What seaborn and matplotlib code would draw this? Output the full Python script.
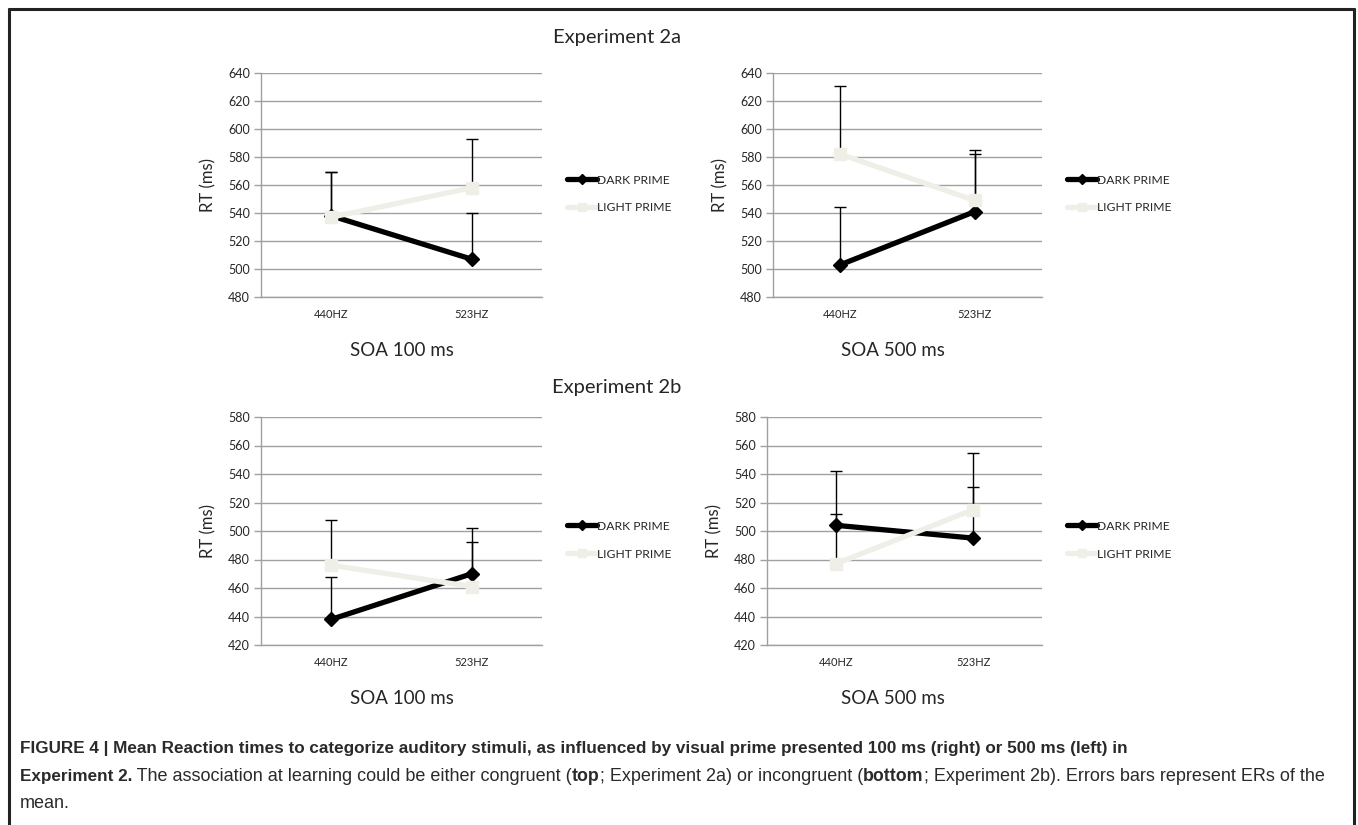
import numpy as np
import pandas as pd
import matplotlib
matplotlib.use("Agg")
import matplotlib.pyplot as plt
from matplotlib.lines import Line2D
import seaborn as sns

# values
freqs = ["440HZ", "523HZ"]
primes = ["DARK PRIME", "LIGHT PRIME"]

# Experiment 2a
dark_2a_100 = [538, 507]
light_2a_100 = [537, 558]
dark_err_2a_100 = [31, 33]
light_err_2a_100 = [32, 35]

dark_2a_500 = [503, 541]
light_2a_500 = [582, 549]
dark_err_2a_500 = [41, 41]
light_err_2a_500 = [49, 36]

# Experiment 2b
dark_2b_100 = [438, 470]
light_2b_100 = [476, 461]
dark_err_2b_100 = [30, 32]
light_err_2b_100 = [32, 31]

dark_2b_500 = [504, 495]
light_2b_500 = [477, 515]
dark_err_2b_500 = [38, 36]
light_err_2b_500 = [35, 40]

yticks_2a = [480, 500, 520, 540, 560, 580, 600, 620, 640]
yticks_2b = [420, 440, 460, 480, 500, 520, 540, 560, 580]

W, H = 1358, 825
sns.set_style("white")
plt.rcParams["font.family"] = ["Lato", "DejaVu Sans"]

fig = plt.figure(figsize=(W / 100, H / 100), dpi=100)

dark_col = "black"
light_col = "#efefe8"
grid_col = "#a0a0a0"


def px_axes(left, top, right, bottom):
    return fig.add_axes([left / W, 1 - bottom / H, (right - left) / W, (bottom - top) / H])


def panel(ax, dark, light, dark_err, light_err, yticks, leg_x):
    df = pd.DataFrame({
        "freq": freqs * 2,
        "rt": list(dark) + list(light),
        "prime": [primes[0]] * 2 + [primes[1]] * 2,
    })
    # one-sided error bars behind the lines
    xs = np.arange(len(freqs))
    ax.errorbar(xs, dark, yerr=[np.zeros(2), dark_err], fmt="none", ecolor="black",
                elinewidth=1.0, capsize=4, capthick=1.0, zorder=1)
    ax.errorbar(xs, light, yerr=[np.zeros(2), light_err], fmt="none", ecolor="black",
                elinewidth=1.0, capsize=4, capthick=1.0, zorder=1)
    n0 = len(ax.lines)
    sns.pointplot(data=df, x="freq", y="rt", hue="prime", order=freqs, hue_order=primes,
                  palette={primes[0]: dark_col, primes[1]: light_col},
                  markers=["D", "s"], linestyles=["-", "-"], errorbar=None,
                  linewidth=3.8, ax=ax, legend=False)
    new = ax.lines[n0:]
    for i, ln in enumerate(new):
        ln.set_zorder(3 + i)
        if ln.get_marker() == "D":
            ln.set_markersize(7)
            ln.set_markeredgewidth(1)
        elif ln.get_marker() == "s":
            ln.set_markersize(8.5)
            ln.set_markeredgewidth(1)
    ax.set_xlim(-0.5, 1.5)
    ax.set_ylim(yticks[0], yticks[-1])
    ax.set_yticks(yticks)
    ax.set_yticklabels([str(t) for t in yticks], fontsize=9)
    ax.set_xticks([0, 1])
    ax.set_xticklabels(freqs, fontsize=8)
    ax.set_xticks([-0.5, 0.5, 1.5], minor=True)
    ax.tick_params(axis="x", which="major", length=0, pad=9)
    ax.tick_params(axis="x", which="minor", length=5, color=grid_col, width=1, direction="out")
    ax.tick_params(axis="y", length=5, color=grid_col, width=1, direction="out", pad=3, left=True)
    ax.yaxis.grid(True, color=grid_col, linewidth=1.0)
    ax.set_axisbelow(True)
    for s in ["top", "right"]:
        ax.spines[s].set_visible(False)
    for s in ["left", "bottom"]:
        ax.spines[s].set_color(grid_col)
        ax.spines[s].set_linewidth(1.0)
    ax.set_xlabel("")
    ax.set_ylabel("RT (ms)", fontsize=12, labelpad=8)
    handles = [
        Line2D([], [], color=dark_col, lw=3.8, marker="D", markersize=5),
        Line2D([], [], color=light_col, lw=3.8, marker="s", markersize=6),
    ]
    ax.legend(handles, primes, loc="center left", bbox_to_anchor=(leg_x, 0.46), frameon=False,
              fontsize=8.7, handlelength=2.5, handletextpad=0.0, labelspacing=1.4,
              borderaxespad=0, borderpad=0)


ax1 = px_axes(261, 73, 542, 297)
ax2 = px_axes(773, 73, 1042, 297)
ax3 = px_axes(261, 417, 542, 645)
ax4 = px_axes(767, 417, 1042, 645)

panel(ax1, dark_2a_100, light_2a_100, dark_err_2a_100, light_err_2a_100, yticks_2a, (567 - 261) / 281)
panel(ax2, dark_2a_500, light_2a_500, dark_err_2a_500, light_err_2a_500, yticks_2a, (1067 - 773) / 269)
panel(ax3, dark_2b_100, light_2b_100, dark_err_2b_100, light_err_2b_100, yticks_2b, (567 - 261) / 281)
panel(ax4, dark_2b_500, light_2b_500, dark_err_2b_500, light_err_2b_500, yticks_2b, (1067 - 767) / 275)


def ftext(x, y, s, **kw):
    return fig.text(x / W, 1 - y / H, s, **kw)


ftext(617, 37, "Experiment 2a", ha="center", va="center", fontsize=14.5)
ftext(617, 387, "Experiment 2b", ha="center", va="center", fontsize=14.5)
for yy in (350, 698):
    ftext(402, yy, "SOA 100 ms", ha="center", va="center", fontsize=13.5)
    ftext(893, yy, "SOA 500 ms", ha="center", va="center", fontsize=13.5)

# frame around the figure panel
frame = dict(color="#222222", lw=2.2, transform=fig.transFigure)
fig.add_artist(Line2D([9 / W, 9 / W], [0, 1 - 9 / H], **frame))
fig.add_artist(Line2D([9 / W, 1354 / W], [1 - 9 / H, 1 - 9 / H], **frame))
fig.add_artist(Line2D([1354 / W, 1354 / W], [0, 1 - 9 / H], **frame))

# caption with mixed weights: (text, weight, size)
cap_font = ["Liberation Sans", "DejaVu Sans"]
cap_col = "#2a2a2a"
caption_lines = [
    [("FIGURE 4 | Mean Reaction times to categorize auditory stimuli, as influenced by visual prime presented 100 ms (right) or 500 ms (left) in", "bold", 12.3)],
    [("Experiment 2.", "bold", 12.3), (" The association at learning could be either congruent (", "normal", 13.0),
     ("top", "bold", 12.8), ("; Experiment 2a) or incongruent (", "normal", 13.0), ("bottom", "bold", 12.8),
     ("; Experiment 2b). Errors bars represent ERs of the", "normal", 13.0)],
    [("mean.", "normal", 13.0)],
]
caption_y = [753, 781, 808]

fig.canvas.draw()
renderer = fig.canvas.get_renderer()
for runs, yy in zip(caption_lines, caption_y):
    x = 20
    for s, wt, sz in runs:
        t = ftext(x, yy, s, ha="left", va="baseline", fontsize=sz, fontweight=wt,
                  family=cap_font, color=cap_col)
        bb = t.get_window_extent(renderer=renderer)
        x += bb.width

fig.savefig("out.png", dpi=100)
